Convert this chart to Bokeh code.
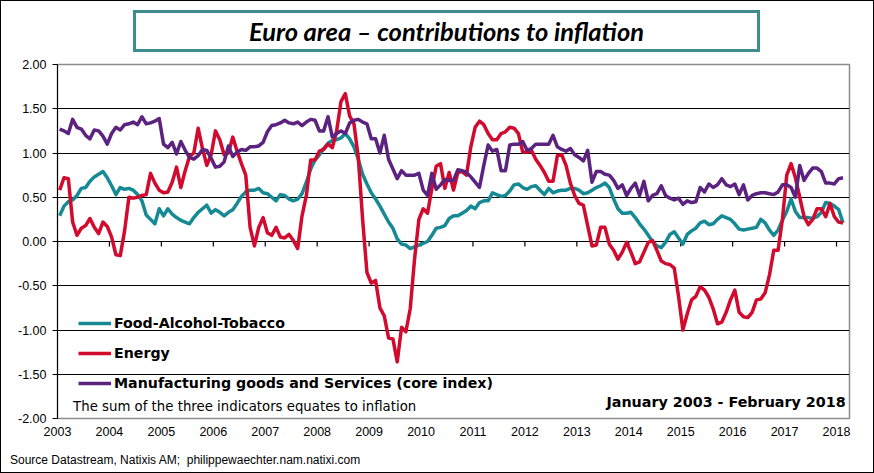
import numpy as np
from bokeh.plotting import figure
from bokeh.layouts import column
from bokeh.models import (Range1d, LinearAxis, FixedTicker, NumeralTickFormatter,
                          Label, Legend, LegendItem, ColumnDataSource, Div)
from bokeh.embed import file_html
from bokeh.resources import INLINE

# ---------------- data (monthly, Jan 2003 - Feb 2018) ----------------
START_YEAR = 2003
START_MONTH = 1

food = [
    0.29, 0.40, 0.45, 0.47, 0.52, 0.60, 0.61, 0.68, 0.73, 0.76, 0.79, 0.72,   # 2003
    0.63, 0.53, 0.61, 0.59, 0.60, 0.58, 0.53, 0.46, 0.30, 0.25, 0.20, 0.37,   # 2004
    0.29, 0.37, 0.31, 0.27, 0.24, 0.22, 0.20, 0.27, 0.33, 0.37, 0.41, 0.32,   # 2005
    0.36, 0.33, 0.29, 0.33, 0.36, 0.43, 0.51, 0.56, 0.58, 0.58, 0.60, 0.55,   # 2006
    0.54, 0.50, 0.46, 0.53, 0.52, 0.48, 0.46, 0.48, 0.54, 0.67, 0.82, 0.92,   # 2007
    0.98, 1.05, 1.11, 1.14, 1.15, 1.17, 1.22, 1.16, 1.07, 0.93, 0.76, 0.65,   # 2008
    0.55, 0.48, 0.40, 0.31, 0.22, 0.15, 0.03, -0.03, -0.04, -0.08, -0.06, -0.04,  # 2009
    -0.02, 0.00, 0.07, 0.15, 0.16, 0.18, 0.26, 0.29, 0.29, 0.32, 0.35, 0.40,  # 2010
    0.37, 0.44, 0.46, 0.46, 0.55, 0.53, 0.51, 0.52, 0.57, 0.64, 0.65, 0.61,   # 2011
    0.59, 0.62, 0.63, 0.58, 0.53, 0.60, 0.55, 0.57, 0.58, 0.58, 0.60, 0.60,   # 2012
    0.58, 0.54, 0.55, 0.58, 0.61, 0.63, 0.66, 0.61, 0.48, 0.37, 0.32, 0.32,   # 2013
    0.33, 0.27, 0.20, 0.14, 0.07, 0.00, -0.05, -0.07, -0.01, 0.08, 0.11, 0.04,  # 2014
    -0.03, 0.08, 0.12, 0.15, 0.21, 0.23, 0.19, 0.20, 0.25, 0.29, 0.27, 0.25,  # 2015
    0.20, 0.14, 0.13, 0.14, 0.15, 0.16, 0.25, 0.21, 0.13, 0.07, 0.13, 0.24,   # 2016
    0.34, 0.48, 0.34, 0.27, 0.27, 0.27, 0.26, 0.28, 0.33, 0.44, 0.43, 0.40,   # 2017
    0.36, 0.21,                                                               # 2018
]

energy = [
    0.58, 0.72, 0.71, 0.22, 0.07, 0.15, 0.18, 0.26, 0.16, 0.09, 0.22, 0.17,   # 2003
    0.05, -0.15, -0.16, 0.12, 0.50, 0.49, 0.50, 0.52, 0.53, 0.77, 0.66, 0.58,  # 2004
    0.55, 0.56, 0.67, 0.84, 0.61, 0.80, 0.96, 1.00, 1.28, 1.05, 0.86, 0.98,   # 2005
    1.25, 1.15, 0.98, 1.00, 1.18, 1.02, 0.88, 0.75, 0.16, -0.05, 0.16, 0.27,  # 2006
    0.10, 0.07, 0.16, 0.05, 0.04, 0.08, 0.01, -0.08, 0.29, 0.52, 0.92, 0.92,  # 2007
    1.02, 1.04, 1.10, 1.06, 1.25, 1.58, 1.67, 1.42, 1.33, 0.95, 0.25, -0.35,  # 2008
    -0.47, -0.44, -0.75, -0.84, -1.09, -1.10, -1.36, -0.97, -1.02, -0.76, -0.20, 0.25,  # 2009
    0.37, 0.32, 0.60, 0.85, 0.88, 0.60, 0.78, 0.58, 0.78, 0.79, 0.75, 1.07,   # 2010
    1.29, 1.36, 1.32, 1.22, 1.15, 1.15, 1.22, 1.24, 1.29, 1.28, 1.22, 1.01,   # 2011
    1.01, 1.03, 0.93, 0.86, 0.78, 0.68, 0.68, 0.97, 0.98, 0.86, 0.66, 0.52,   # 2012
    0.43, 0.41, 0.18, -0.05, -0.04, 0.16, 0.16, -0.03, -0.10, -0.20, -0.12, -0.01,  # 2013
    -0.12, -0.25, -0.23, -0.12, -0.01, 0.01, -0.10, -0.22, -0.25, -0.26, -0.30, -0.62,  # 2014
    -1.00, -0.82, -0.66, -0.62, -0.51, -0.55, -0.63, -0.76, -0.93, -0.91, -0.80, -0.66,  # 2015
    -0.55, -0.80, -0.85, -0.86, -0.80, -0.66, -0.65, -0.58, -0.38, -0.10, -0.10, 0.25,  # 2016
    0.75, 0.88, 0.72, 0.50, 0.28, 0.19, 0.25, 0.37, 0.37, 0.28, 0.43, 0.28,   # 2017
    0.22, 0.21,                                                               # 2018
]

core = [
    1.27, 1.25, 1.22, 1.38, 1.29, 1.27, 1.20, 1.16, 1.26, 1.25, 1.19, 1.10,   # 2003
    1.22, 1.29, 1.26, 1.32, 1.33, 1.35, 1.32, 1.41, 1.33, 1.34, 1.36, 1.39,   # 2004
    1.10, 1.06, 1.12, 0.99, 1.13, 1.03, 0.95, 0.93, 0.97, 1.04, 1.03, 0.94,   # 2005
    0.84, 0.85, 0.90, 1.08, 0.96, 1.01, 1.04, 1.03, 1.07, 1.07, 1.08, 1.12,   # 2006
    1.24, 1.31, 1.32, 1.34, 1.37, 1.34, 1.33, 1.35, 1.31, 1.35, 1.38, 1.37,   # 2007
    1.25, 1.25, 1.41, 1.18, 1.22, 1.25, 1.22, 1.34, 1.37, 1.38, 1.35, 1.33,   # 2008
    1.16, 1.16, 1.00, 1.20, 0.93, 0.82, 0.71, 0.80, 0.75, 0.75, 0.75, 0.77,   # 2009
    0.58, 0.52, 0.77, 0.59, 0.64, 0.70, 0.69, 0.69, 0.81, 0.80, 0.78, 0.73,   # 2010
    0.67, 0.61, 0.86, 1.09, 1.02, 1.04, 0.80, 0.80, 1.09, 1.10, 1.10, 1.13,   # 2011
    1.03, 1.05, 1.10, 1.10, 1.10, 1.10, 1.20, 1.07, 1.04, 1.02, 1.05, 0.98,   # 2012
    0.95, 0.91, 1.03, 0.67, 0.79, 0.79, 0.76, 0.75, 0.69, 0.60, 0.64, 0.52,   # 2013
    0.60, 0.66, 0.52, 0.68, 0.46, 0.52, 0.54, 0.63, 0.52, 0.49, 0.47, 0.49,   # 2014
    0.42, 0.46, 0.44, 0.45, 0.61, 0.56, 0.65, 0.61, 0.64, 0.71, 0.64, 0.62,   # 2015
    0.65, 0.53, 0.64, 0.47, 0.52, 0.54, 0.55, 0.55, 0.54, 0.53, 0.56, 0.64,   # 2016
    0.64, 0.61, 0.50, 0.86, 0.69, 0.77, 0.83, 0.83, 0.79, 0.66, 0.66, 0.65,   # 2017
    0.71, 0.72,                                                               # 2018
]

series_labels = ["Food-Alcohol-Tobacco", "Energy",
                 "Manufacturing goods and Services (core index)"]
year_ticks = list(range(2003, 2019))
value_ticks = [-2.0, -1.5, -1.0, -0.5, 0.0, 0.5, 1.0, 1.5, 2.0]

title_text = "Euro area \u2013 contributions to inflation"
note_text = "The sum of the three indicators equates to inflation"
period_text = "January 2003 - February 2018"
source_text = "Source Datastream, Natixis AM;&nbsp; philippewaechter.nam.natixi.com"

# ---------------- build ----------------
n = len(food)
t = START_YEAR + (START_MONTH - 1 + np.arange(n) + 0.5) / 12.0
src = ColumnDataSource(dict(t=t, food=food, energy=energy, core=core))

SANS = "Liberation Sans"
TEAL = "#168a94"
RED = "#d20a2e"
PURPLE = "#5b237f"

TITLE_H = 52
SOURCE_H = 20
W = 872
P_H = 471 - TITLE_H - SOURCE_H

title_div = Div(
    text=('<div style="padding:9px 0 0 132px;">'
          '<div style="box-sizing:border-box;width:627px;height:42px;'
          'border:3px solid #3f8c8f;background:white;text-align:center;'
          'line-height:36px;white-space:nowrap;'
          'font-family:Lato;font-style:italic;font-weight:bold;font-size:25.5px;'
          'color:black;">' + title_text + '</div></div>'),
    width=W, height=TITLE_H, margin=0)

source_div = Div(
    text=('<div style="padding:0 0 0 9px;line-height:16px;white-space:nowrap;'
          'font-family:\'Liberation Sans\';font-size:12px;color:black;">'
          + source_text + '</div>'),
    width=W, height=SOURCE_H, margin=0)

p = figure(width=W, height=P_H, output_backend="svg", toolbar_location=None,
           x_range=Range1d(2003, 2018.25), y_range=Range1d(-2, 2),
           x_axis_location=None,
           min_border_left=56, min_border_right=24, min_border_top=64 - 1 - TITLE_H,
           min_border_bottom=P_H - (418 - 1 - TITLE_H), margin=0)
p.outline_line_color = "#8c8c8c"
p.outline_line_width = 1.5
p.background_fill_color = "white"
p.border_fill_color = "white"

ya = p.yaxis[0]
ya.ticker = FixedTicker(ticks=value_ticks)
ya.formatter = NumeralTickFormatter(format="0.00")
ya.axis_line_color = "black"
ya.major_tick_line_color = "black"
ya.major_tick_out = 5
ya.major_tick_in = 0
ya.minor_tick_line_color = None
ya.major_label_standoff = 6
ya.major_label_text_font = SANS
ya.major_label_text_font_size = "12.5px"
ya.major_label_text_color = "black"

p.ygrid.ticker = FixedTicker(ticks=value_ticks[:-1])
p.ygrid.grid_line_color = "black"
p.ygrid.grid_line_width = 1.2
p.xgrid.visible = False

ax_lab = LinearAxis(ticker=FixedTicker(ticks=year_ticks),
                    axis_line_color=None, major_tick_line_color=None,
                    minor_tick_line_color=None, major_label_standoff=2,
                    major_label_text_font=SANS, major_label_text_font_size="12.5px",
                    major_label_text_color="black")
p.add_layout(ax_lab, "below")

# year tick marks hanging below the zero line (5 px = 5/88.5 data units)
p.segment(x0=year_ticks, y0=[0] * len(year_ticks), x1=year_ticks,
          y1=[-5 / 88.5] * len(year_ticks), line_color="black", line_width=1.2)

lw = 3.5
r1 = p.line("t", "food", source=src, color=TEAL, line_width=lw, line_join="round")
r2 = p.line("t", "energy", source=src, color=RED, line_width=lw, line_join="round")
r3 = p.line("t", "core", source=src, color=PURPLE, line_width=lw, line_join="round")

legend = Legend(items=[LegendItem(label=series_labels[0], renderers=[r1]),
                       LegendItem(label=series_labels[1], renderers=[r2]),
                       LegendItem(label=series_labels[2], renderers=[r3])],
                location=(21, 25), orientation="vertical",
                glyph_width=33, glyph_height=20, label_height=20, spacing=10,
                label_standoff=3, padding=0, margin=0,
                border_line_color=None, background_fill_alpha=0,
                label_text_font="DejaVu Sans", label_text_font_style="bold",
                label_text_font_size="14.2px", label_text_color="black")
p.add_layout(legend)

p.add_layout(Label(x=2003.30, y=-1.864, text=note_text, text_align="left",
                   text_baseline="middle", text_font="DejaVu Sans",
                   text_font_size="13.3px", text_color="black"))
p.add_layout(Label(x=2018.175, y=-1.819, text=period_text, text_align="right",
                   text_baseline="middle", text_font="DejaVu Sans",
                   text_font_style="bold", text_font_size="14.3px", text_color="black"))

layout = column(title_div, p, source_div, spacing=0,
                styles={"border": "1px solid black", "background": "white"})

open("out.html", "w").write(file_html(layout, INLINE))
